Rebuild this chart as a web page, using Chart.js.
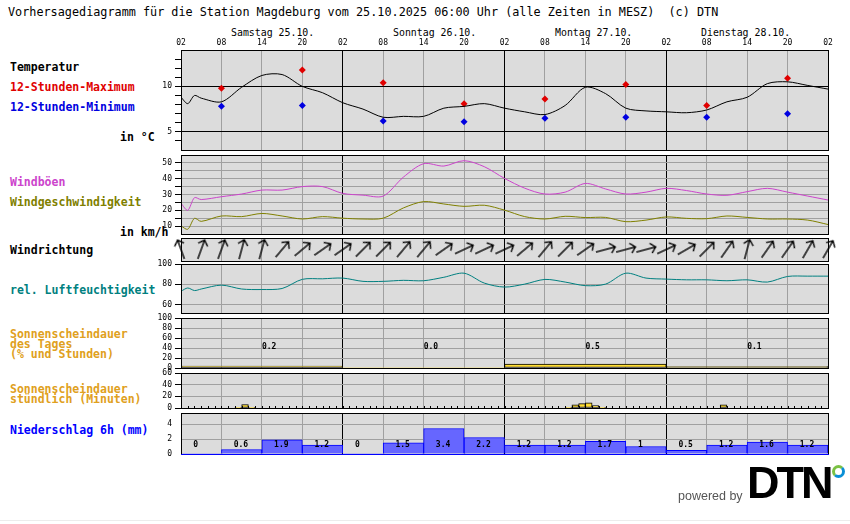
<!DOCTYPE html>
<html>
<head>
<meta charset="utf-8">
<script src="https://cdn.jsdelivr.net/npm/chart.js@4.4.1/dist/chart.umd.min.js"></script>
<style>
  body { margin: 0; background: #fff; }
  #wrap { position: relative; width: 850px; height: 524px; overflow: hidden; font-family: 'DejaVu Sans Mono', monospace; }
  #wrap canvas { position: absolute; left: 0; top: 0; }
  .t { position: absolute; white-space: pre; line-height: 12px; font-size: 11.5px; font-weight: bold; }
  .day { position: absolute; white-space: pre; line-height: 12px; font-size: 9.9px; top: 27px; }
</style>
</head>
<body>
<div id="wrap">
  <div class="t" style="left:8px;top:6px;font-weight:normal;font-size:11.8px">Vorhersagediagramm für die Station Magdeburg vom 25.10.2025 06:00 Uhr (alle Zeiten in MESZ)  (c) DTN</div>
  <div class="day" style="left:231px">Samstag 25.10.</div>
  <div class="day" style="left:393px">Sonntag 26.10.</div>
  <div class="day" style="left:555px">Montag 27.10.</div>
  <div class="day" style="left:701px">Dienstag 28.10.</div>

  <div class="t" style="left:10px;top:61px;color:#000">Temperatur</div>
  <div class="t" style="left:10px;top:81px;color:#e00000">12-Stunden-Maximum</div>
  <div class="t" style="left:10px;top:101px;color:#0000e0">12-Stunden-Minimum</div>
  <div class="t" style="left:120px;top:131px;color:#000">in °C</div>
  <div class="t" style="left:10px;top:176px;color:#cc44cc">Windböen</div>
  <div class="t" style="left:10px;top:196px;color:#808000">Windgeschwindigkeit</div>
  <div class="t" style="left:120px;top:226px;color:#000">in km/h</div>
  <div class="t" style="left:10px;top:244px;color:#000">Windrichtung</div>
  <div class="t" style="left:10px;top:284px;color:#008080">rel. Luftfeuchtigkeit</div>
  <div class="t" style="left:10px;top:329px;color:#e0a020;line-height:10px">Sonnenscheindauer
des Tages
(% und Stunden)</div>
  <div class="t" style="left:10px;top:384px;color:#e0a020;line-height:10px">Sonnenscheindauer
stündlich (Minuten)</div>
  <div class="t" style="left:10px;top:424px;color:#0000ff">Niederschlag 6h (mm)</div>

  <canvas id="cTemp" width="850" height="524"></canvas>
  <canvas id="cWind" width="850" height="524"></canvas>
  <canvas id="cDir" width="850" height="524"></canvas>
  <canvas id="cHum" width="850" height="524"></canvas>
  <canvas id="cSunDay" width="850" height="524"></canvas>
  <canvas id="cSunHour" width="850" height="524"></canvas>
  <canvas id="cPrecip" width="850" height="524"></canvas>

  <div style="position:absolute;left:678px;top:489px;font-family:'Liberation Sans',Arial,sans-serif;font-size:12.5px;color:#555">powered by</div>
  <div style="position:absolute;left:747px;top:458px;font-family:'Liberation Sans',Arial,sans-serif;font-size:45px;font-weight:bold;letter-spacing:-3px;color:#000;line-height:50px">DTN</div>
  <div style="position:absolute;left:832px;top:465px;width:7px;height:7px;border-radius:50%;border:3px solid;border-color:#7ac143 #0a8fd6 #0a8fd6 #7ac143"></div>
  <div style="position:absolute;left:0;top:520px;width:850px;height:1px;background:#ececec"></div>
</div>

<script>
// ── Data (hours counted from Saturday 02:00) ─────────────────
const hours = [0, 1, 2, 3, 6, 9, 12, 15, 18, 21, 24, 27, 30, 33, 36, 39, 42, 45, 48,
               51, 54, 57, 60, 63, 66, 69, 72, 75, 78, 81, 84, 87, 90, 93, 96];
const temp = [8.8, 8.1, 9.0, 8.7, 8.3, 9.9, 11.2, 11.3, 10.0, 9.3, 8.2, 7.5, 6.6, 6.7, 6.7, 7.6, 7.8, 8.1, 7.6,
              7.2, 6.9, 7.9, 9.9, 9.2, 7.6, 7.3, 7.2, 7.1, 7.4, 8.3, 8.8, 10.3, 10.5, 10.1, 9.7];
const gust = [24.4, 20, 28, 26.8, 28.6, 30.3, 32.8, 32.8, 35, 35, 30.7, 29.6, 29, 41, 49.5, 48, 51.4, 47.6, 40.2,
              34, 30.3, 31.5, 37, 33.5, 30.3, 31.5, 33.9, 32.5, 30.3, 29.5, 31.8, 33.9, 31.5, 29, 26.5];
const wind = [10.1, 8, 14.9, 13, 16.4, 16, 18, 16.4, 14.5, 16, 15, 14.5, 15, 21.5, 25.5, 24, 22.5, 23.2, 20.1,
              16, 14.5, 16.2, 15.4, 15.5, 12.8, 13.8, 15.8, 14.9, 14.7, 16.4, 15.5, 14.5, 14.5, 13.8, 11];
const humidity = [73.3, 76.5, 74, 75.5, 79.3, 75.5, 75, 76, 85, 85.5, 86.2, 83, 83, 84, 83.6, 87, 91, 81.3, 77.4,
                  80.3, 84.9, 82.3, 78.8, 80.3, 91, 86.2, 85.2, 84.5, 84.5, 83.6, 84.5, 82.3, 87.8, 88.1, 88.1];

const mmHours = [6, 18, 30, 42, 54, 66, 78, 90];
const tMax = [9.8, 11.8, 10.4, 8.1, 8.6, 10.2, 7.9, 10.9];
const tMin = [7.8, 7.9, 6.2, 6.1, 6.5, 6.6, 6.6, 7.0];

const dirHours = [0, 3, 6, 9, 12, 15, 18, 21, 24, 27, 30, 33, 36, 39, 42, 45, 48,
                  51, 54, 57, 60, 63, 66, 69, 72, 75, 78, 81, 84, 87, 90, 93, 96];
const windDir = [-20, 20, 20, 15, 15, 40, 50, 55, 55, 45, 45, 40, 40, 55, 65, 65, 65,
                 50, 40, 45, 55, 75, 75, 75, 65, 60, 45, 35, 15, 35, 35, 30, 30];

const dayCenters = [12, 36, 60, 84];
const sunDayPct = [4, 0, 8, 3];
const sunDayHours = [0.2, 0.0, 0.5, 0.1];

const sunHours = [8, 9, 10, 57, 58, 59, 60, 61, 62, 80];
const sunMinutes = [0.3, 6, 0.3, 0.3, 5.5, 7.5, 9, 4, 0.3, 5.5];

const precipCenters = [3, 9, 15, 21, 27, 33, 39, 45, 51, 57, 63, 69, 75, 81, 87, 93];
const precip = [0, 0.6, 1.9, 1.2, 0, 1.5, 3.4, 2.2, 1.2, 1.2, 1.7, 1, 0.5, 1.2, 1.6, 1.2];

const hourTicks = [0, 6, 12, 18, 24, 30, 36, 42, 48, 54, 60, 66, 72, 78, 84, 90, 96];
const tempTicks = [4, 5, 6, 7, 8, 9, 10, 11, 12, 13];
const windTicks = [10, 15, 20, 25, 30, 35, 40, 45, 50];
const humTicks = [60, 80, 100];
const sunDayTicks = [0, 20, 40, 60, 80, 100];
const sunHourTicks = [0, 20, 40, 60];
const precipTicks = [0, 2, 4];

// ── Layout / styles ──────────────────────────────────────────
const W = 850, H = 524, PLOT_L = 181, PLOT_R = 828, Y_W = 30;
const PX_H = (PLOT_R - PLOT_L) / 96;
const BG = '#dcdcdc', GRID = '#a0a0a0', SUN = '#ffdd33';
const yFont = { family: 'DejaVu Sans Mono', size: 8 };
const lblFont = 'bold 8px "DejaVu Sans Mono"';

const pts = (xs, ys) => xs.map((x, i) => ({ x, y: ys[i] }));
const fixTicks = arr => s => { s.ticks = arr.map(v => ({ value: v })); };

const framePlugin = (bottomColor) => ({
  id: 'frame',
  beforeDraw(chart) {
    const a = chart.chartArea, ctx = chart.ctx;
    ctx.save();
    ctx.fillStyle = BG;
    ctx.fillRect(a.left, a.top, a.right - a.left, a.bottom - a.top);
    ctx.restore();
  },
  afterDraw(chart) {
    const a = chart.chartArea, ctx = chart.ctx;
    ctx.save();
    ctx.lineWidth = 1;
    ctx.strokeStyle = '#000';
    ctx.strokeRect(a.left + 0.5, a.top + 0.5, a.right - a.left, a.bottom - a.top);
    if (bottomColor) {
      ctx.strokeStyle = bottomColor;
      ctx.beginPath();
      ctx.moveTo(a.left, a.bottom + 0.5);
      ctx.lineTo(a.right + 1, a.bottom + 0.5);
      ctx.stroke();
    }
    ctx.restore();
  }
});

function yAxis(min, max, ticks, gridColor, opts = {}) {
  return {
    min, max,
    afterBuildTicks: fixTicks(ticks),
    afterFit: s => { s.width = Y_W; },
    border: { display: false },
    grid: { color: gridColor, tickColor: opts.tickColor || '#000', tickLength: 6, lineWidth: 1 },
    ticks: { padding: 3, font: yFont, color: '#000', autoSkip: false, callback: opts.label || (v => v) }
  };
}

function makeChart(id, top, bottom, y, datasets, extra = {}) {
  const xTop = !!extra.xTop;
  return new Chart(document.getElementById(id), {
    type: 'line',
    data: { datasets },
    options: {
      responsive: false, animation: false, events: [],
      layout: { padding: { left: PLOT_L - Y_W, right: W - PLOT_R, top: top - (xTop ? 12 : 0), bottom: H - bottom } },
      plugins: { legend: { display: false }, tooltip: { enabled: false } },
      scales: {
        x: {
          type: 'linear', min: 0, max: 96, offset: false, position: xTop ? 'top' : 'bottom',
          afterBuildTicks: fixTicks(hourTicks),
          afterFit: s => { s.height = xTop ? 12 : 0; },
          border: { display: false },
          grid: { offset: false, color: c => (c.tick && c.tick.value % 24 === 0) ? '#000' : GRID, drawTicks: false, lineWidth: 1 },
          ticks: { display: xTop, padding: 2, maxRotation: 0, autoSkip: false, color: '#000',
                   font: { family: 'DejaVu Sans Mono', size: 8 },
                   callback: v => String((v + 2) % 24).padStart(2, '0') }
        },
        y
      }
    },
    plugins: [framePlugin(extra.bottomColor)].concat(extra.plugins || [])
  });
}

// ── Temperatur ───────────────────────────────────────────────
makeChart('cTemp', 50, 150,
  yAxis(3, 14, tempTicks, c => c.tick.value % 5 === 0 ? '#000' : 'rgba(0,0,0,0)', { label: v => v % 5 === 0 ? v : '' }),
  [
    { type: 'line', data: pts(hours, temp), borderColor: '#000', borderWidth: 1, pointRadius: 0, tension: 0.3 },
    { type: 'scatter', data: pts(mmHours, tMax), pointStyle: 'rectRot', pointRadius: 3.5, backgroundColor: '#e00000', borderColor: '#e00000', borderWidth: 0 },
    { type: 'scatter', data: pts(mmHours, tMin), pointStyle: 'rectRot', pointRadius: 3.5, backgroundColor: '#0000e0', borderColor: '#0000e0', borderWidth: 0 }
  ], { xTop: true });

// ── Wind ─────────────────────────────────────────────────────
makeChart('cWind', 155, 234,
  yAxis(5, 55, windTicks, GRID, { label: v => v % 10 === 0 ? v : '' }),
  [
    { type: 'line', data: pts(hours, gust), borderColor: '#cc44cc', borderWidth: 1, pointRadius: 0, tension: 0.3 },
    { type: 'line', data: pts(hours, wind), borderColor: '#808000', borderWidth: 1, pointRadius: 0, tension: 0.3 }
  ]);

// ── Windrichtung ─────────────────────────────────────────────
const arrowImg = document.createElement('canvas');
arrowImg.width = 24; arrowImg.height = 24;
(() => {
  const g = arrowImg.getContext('2d');
  g.strokeStyle = '#000'; g.lineWidth = 1.4;
  g.beginPath();
  g.moveTo(12, 22); g.lineTo(12, 2);
  g.moveTo(7, 7); g.lineTo(12, 2); g.lineTo(17, 7);
  g.stroke();
})();

makeChart('cDir', 238, 261,
  { min: 0, max: 1, afterFit: s => { s.width = Y_W; }, border: { display: false }, grid: { display: false }, ticks: { display: false } },
  [
    { type: 'scatter', data: dirHours.map(h => ({ x: h, y: 0.5 })), pointStyle: arrowImg,
      rotation: c => windDir[c.dataIndex], pointRadius: 5, clip: false }
  ]);

// ── Luftfeuchtigkeit ─────────────────────────────────────────
makeChart('cHum', 264, 313,
  yAxis(52, 100, humTicks, c => c.tick.value < 100 ? GRID : 'rgba(0,0,0,0)'),
  [
    { type: 'line', data: pts(hours, humidity), borderColor: '#008080', borderWidth: 1, pointRadius: 0, tension: 0.3 }
  ]);

// ── Sonnenscheindauer Tag ────────────────────────────────────
const sunDayLabels = {
  id: 'sunDayLabels',
  afterDatasetsDraw(chart) {
    const ctx = chart.ctx, xs = chart.scales.x, a = chart.chartArea;
    ctx.save();
    ctx.font = lblFont; ctx.fillStyle = '#000'; ctx.textAlign = 'left'; ctx.textBaseline = 'middle';
    sunDayHours.forEach((v, i) => ctx.fillText(v.toFixed(1), xs.getPixelForValue(dayCenters[i]), a.top + 29));
    ctx.restore();
  }
};
makeChart('cSunDay', 318, 368,
  yAxis(0, 100, sunDayTicks, c => (c.tick.value > 0 && c.tick.value < 100) ? GRID : 'rgba(0,0,0,0)'),
  [
    { type: 'bar', data: pts(dayCenters, sunDayPct), barThickness: 24 * PX_H, grouped: false,
      backgroundColor: SUN, borderColor: '#000', borderSkipped: false,
      borderWidth: c => (c.raw && c.raw.y > 0) ? 1 : 0 }
  ], { plugins: [sunDayLabels] });

// ── Sonnenscheindauer stündlich ──────────────────────────────
const hourMarks = {
  id: 'hourMarks',
  afterDraw(chart) {
    const ctx = chart.ctx, xs = chart.scales.x, y0 = Math.round(chart.scales.y.getPixelForValue(0));
    ctx.save();
    ctx.strokeStyle = '#000'; ctx.lineWidth = 1;
    ctx.beginPath();
    for (let h = 0; h <= 96; h++) {
      const x = Math.round(xs.getPixelForValue(h)) + 0.5;
      ctx.moveTo(x, y0 - 2); ctx.lineTo(x, y0 + 1);
    }
    ctx.stroke();
    ctx.restore();
  }
};
makeChart('cSunHour', 373, 408,
  yAxis(0, 60, sunHourTicks, c => (c.tick.value > 0 && c.tick.value < 60) ? GRID : 'rgba(0,0,0,0)'),
  [
    { type: 'bar', data: sunHours.map((h, i) => ({ x: h + 0.5, y: sunMinutes[i] })), barThickness: PX_H, grouped: false,
      backgroundColor: SUN, borderColor: '#000', borderWidth: 1, borderSkipped: false }
  ], { plugins: [hourMarks] });

// ── Niederschlag ─────────────────────────────────────────────
const precipLabels = {
  id: 'precipLabels',
  afterDatasetsDraw(chart) {
    const ctx = chart.ctx, xs = chart.scales.x, a = chart.chartArea;
    ctx.save();
    ctx.font = lblFont; ctx.fillStyle = '#000'; ctx.textAlign = 'left'; ctx.textBaseline = 'middle';
    precip.forEach((v, i) => ctx.fillText(String(v), xs.getPixelForValue(precipCenters[i]) - 8, a.top + 32));
    ctx.restore();
  }
};
makeChart('cPrecip', 413, 454,
  yAxis(0, 5.47, precipTicks, c => c.tick.value > 0 ? GRID : 'rgba(0,0,0,0)', { tickColor: 'rgba(0,0,0,0)' }),
  [
    { type: 'bar', data: pts(precipCenters, precip), barThickness: 6 * PX_H, grouped: false,
      backgroundColor: '#6666ff', borderColor: '#0000ff', borderSkipped: 'bottom',
      borderWidth: c => (c.raw && c.raw.y > 0) ? 1 : 0 }
  ], { bottomColor: '#0000ff', plugins: [precipLabels] });
</script>
</body>
</html>
